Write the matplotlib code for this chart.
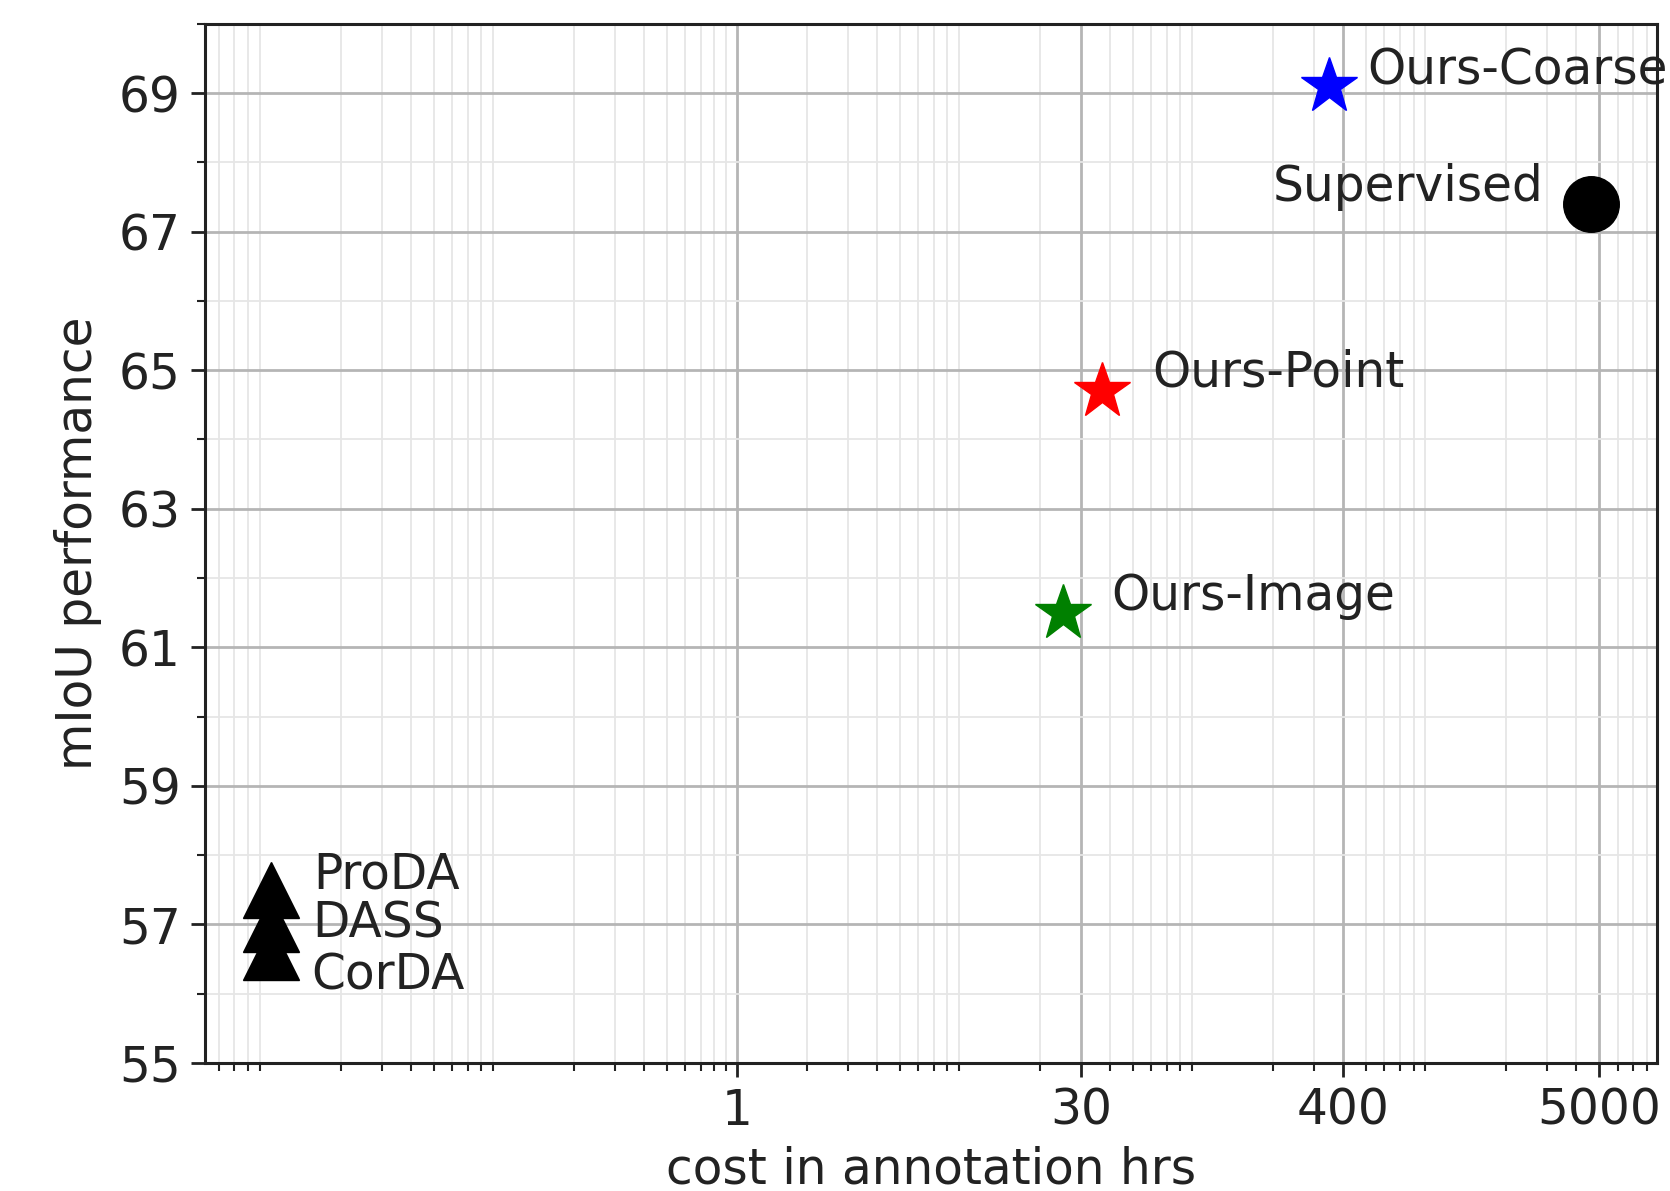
import matplotlib
matplotlib.use("Agg")
import matplotlib.pyplot as plt
import matplotlib.ticker as mticker

# annotation cost (hrs) vs mIoU
names = ["ProDA", "DASS", "CorDA", "Ours-Image", "Ours-Point", "Ours-Coarse", "Supervised"]
cost = [0.01, 0.01, 0.01, 25, 37, 346, 4600]
miou = [57.5, 57.0, 56.6, 61.5, 64.7, 69.1, 67.4]
markers = ["^", "^", "^", "*", "*", "*", "o"]
colors = ["black", "black", "black", "green", "red", "blue", "black"]
# label offsets in points
offsets = [(31, 11), (30, 1), (29, -17), (35, 12), (36, 13), (28, 11), (-34, 12)]
aligns = ["left", "left", "left", "left", "left", "left", "right"]

xticks = [1, 30, 400, 5000]
yticks = [55, 57, 59, 61, 63, 65, 67, 69]

FS = 35

fig = plt.figure(figsize=(16.7, 11.91), dpi=100)
ax = fig.add_axes([0.1225, 0.1075, 0.8695, 0.8725])

for x, y, m, c in zip(cost, miou, markers, colors):
    ax.plot(x, y, m, color=c, ms=40 if m != "*" else 42, zorder=3)

for n, x, y, off, ha in zip(names, cost, miou, offsets, aligns):
    ax.annotate(n, (x, y), xytext=off, textcoords="offset points",
                ha=ha, va="center", fontsize=FS, color="#222222",
                annotation_clip=False)

ax.set_xscale("log")
ax.set_ylim(55, 70)
ax.set_xticks(xticks)
ax.xaxis.set_major_formatter(mticker.FixedFormatter([str(t) for t in xticks]))
ax.xaxis.set_minor_formatter(mticker.NullFormatter())
ax.set_yticks(yticks)
ax.yaxis.set_minor_locator(mticker.MultipleLocator(1))

ax.grid(True, which="major", color="#b5b5b5", linewidth=2)
ax.grid(True, which="minor", color="#e6e6e6", linewidth=1.3)
ax.set_axisbelow(True)

ax.tick_params(which="major", labelsize=FS, length=10, width=2, pad=7,
               colors="#222222")
ax.tick_params(which="minor", length=6, width=1.5, colors="#222222")
for s in ax.spines.values():
    s.set_linewidth(2.2)
    s.set_color("#222222")

ax.set_xlabel("cost in annotation hrs", fontsize=FS, color="#222222", labelpad=8)
ax.set_ylabel("mIoU performance", fontsize=FS, color="#222222", labelpad=12)

fig.savefig("out.png", dpi=100)
